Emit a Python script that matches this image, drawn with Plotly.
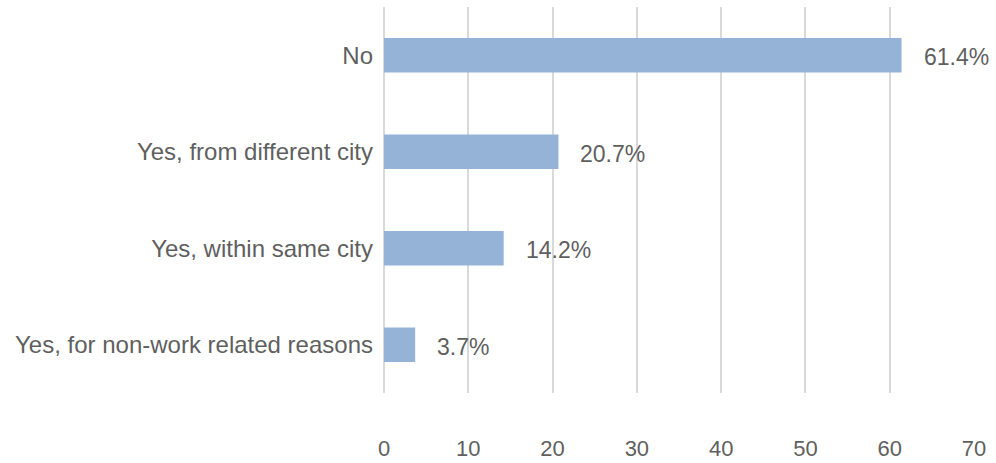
import plotly.graph_objects as go

# Survey responses: did the respondent relocate?
categories = [
    "No",
    "Yes, from different city",
    "Yes, within same city",
    "Yes, for non-work related reasons",
]
shares = [61.4, 20.7, 14.2, 3.7]
x_ticks = [0, 10, 20, 30, 40, 50, 60, 70]

TEXT = "#5f5f5f"
GRID = "#D9D9D9"
FONT = "Liberation Sans, Arial, sans-serif"

fig = go.Figure(
    go.Bar(
        x=shares,
        y=categories,
        orientation="h",
        marker=dict(color="#95B3D7", line=dict(width=0)),
        width=0.36,
        hoverinfo="skip",
    )
)

# value labels to the right of each bar
for cat, val in zip(categories, shares):
    fig.add_annotation(
        x=val, y=cat, text=f"{val:.1f}%", showarrow=False,
        xanchor="left", yanchor="middle", xshift=20, yshift=-2,
        font=dict(family=FONT, size=23, color=TEXT),
    )

fig.update_layout(
    width=996, height=463,
    margin=dict(l=384, r=22, t=7, b=70, autoexpand=False),
    paper_bgcolor="white", plot_bgcolor="white",
    showlegend=False,
    font=dict(family=FONT, color=TEXT),
)
fig.update_xaxes(
    range=[0, 70], tickvals=x_ticks, ticks="",
    showgrid=True, gridcolor=GRID, gridwidth=1.5,
    zeroline=True, zerolinecolor=GRID, zerolinewidth=1.5,
    showline=False, automargin=False,
    tickfont=dict(family=FONT, size=22, color=TEXT),
    ticklabelstandoff=40,
)
fig.update_yaxes(
    categoryorder="array", categoryarray=categories[::-1],
    ticks="", showgrid=False, zeroline=False, showline=False,
    automargin=False,
    tickfont=dict(family=FONT, size=24, color=TEXT),
    ticklabelstandoff=10,
)

fig.write_html("out.html")
